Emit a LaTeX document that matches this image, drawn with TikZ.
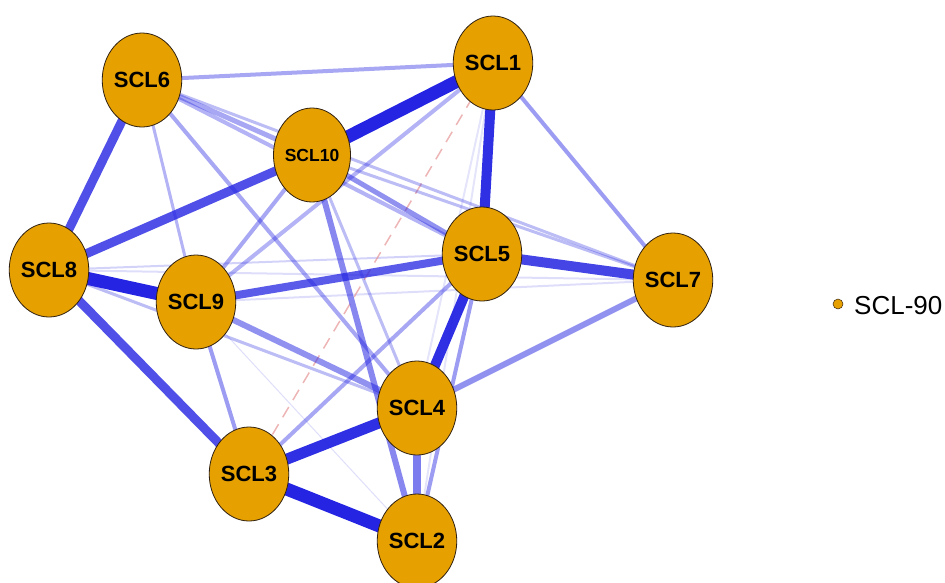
\documentclass[tikz,border=0pt]{standalone}
\usepackage{fontspec}
\setmainfont{Liberation Sans}
\usetikzlibrary{shapes.geometric,backgrounds}
\definecolor{nodeorange}{RGB}{230,160,0}
\definecolor{edgeblue}{RGB}{36,36,226}
\definecolor{negred}{RGB}{230,150,150}

\begin{document}
\begin{tikzpicture}[x=1pt,y=-1pt,
  scl/.style={ellipse,draw=black!75!brown,fill=nodeorange,line width=0.8pt,
    minimum width=72pt,minimum height=94pt,inner sep=0pt,
    font=\fontsize{22}{24}\selectfont\bfseries},
  pos/.style n args={2}{draw=edgeblue,line width=#1pt,draw opacity=#2},
  negedge/.style={draw=negred,line width=1.5pt,draw opacity=0.7,dash pattern=on 12pt off 8pt}]
  \useasboundingbox (0,0) rectangle (945,582);
  % nodes
  \node[scl] (s6) at (142,80) {SCL6};
  \node[scl] (s1) at (493,63) {SCL1};
  \node[scl,font=\fontsize{17.5}{20}\selectfont\bfseries] (s10) at (312,155) {SCL10};
  \node[scl] (s8) at (49,270) {SCL8};
  \node[scl] (s9) at (196,302) {SCL9};
  \node[scl] (s5) at (482,254) {SCL5};
  \node[scl] (s7) at (673,280) {SCL7};
  \node[scl] (s4) at (417,408) {SCL4};
  \node[scl] (s3) at (249,474) {SCL3};
  \node[scl] (s2) at (417,541) {SCL2};
  % edges, weakest first
  \begin{scope}[on background layer]
    \draw[pos={1}{0.15}] (s9.center) -- (s2.center);
    \draw[pos={2}{0.12}] (s1.center) -- (s4.center);
    \draw[pos={2}{0.12}] (s1.center) -- (s2.center);
    \draw[pos={2}{0.15}] (s9.center) -- (s7.center);
    \draw[pos={2}{0.2}] (s8.center) -- (s5.center);
    \draw[pos={2}{0.15}] (s8.center) -- (s7.center);
    \draw[negedge] (s1.center) -- (s3.center);
    \draw[pos={3}{0.3}] (s8.center) -- (s4.center);
    \draw[pos={3}{0.3}] (s10.center) -- (s4.center);
    \draw[pos={3}{0.3}] (s10.center) -- (s7.center);
    \draw[pos={3}{0.3}] (s6.center) -- (s7.center);
    \draw[pos={3}{0.35}] (s6.center) -- (s9.center);
    \draw[pos={4}{0.35}] (s6.center) -- (s5.center);
    \draw[pos={4}{0.4}] (s6.center) -- (s4.center);
    \draw[pos={4}{0.4}] (s6.center) -- (s1.center);
    \draw[pos={5}{0.4}] (s6.center) -- (s10.center);
    \draw[pos={4}{0.4}] (s9.center) -- (s10.center);
    \draw[pos={4}{0.35}] (s1.center) -- (s9.center);
    \draw[pos={4}{0.45}] (s9.center) -- (s3.center);
    \draw[pos={4}{0.4}] (s3.center) -- (s5.center);
    \draw[pos={4}{0.45}] (s5.center) -- (s2.center);
    \draw[pos={4}{0.45}] (s1.center) -- (s7.center);
    \draw[pos={5}{0.5}] (s10.center) -- (s5.center);
    \draw[pos={6}{0.5}] (s9.center) -- (s4.center);
    \draw[pos={6}{0.5}] (s7.center) -- (s4.center);
    \draw[pos={6}{0.55}] (s10.center) -- (s2.center);
    \draw[pos={8}{0.6}] (s4.center) -- (s2.center);
    \draw[pos={8}{0.75}] (s9.center) -- (s5.center);
    \draw[pos={9}{0.8}] (s6.center) -- (s8.center);
    \draw[pos={9}{0.8}] (s8.center) -- (s10.center);
    \draw[pos={9}{0.8}] (s8.center) -- (s3.center);
    \draw[pos={10}{0.85}] (s5.center) -- (s7.center);
    \draw[pos={10}{0.95}] (s1.center) -- (s5.center);
    \draw[pos={10}{0.95}] (s5.center) -- (s4.center);
    \draw[pos={11}{0.95}] (s4.center) -- (s3.center);
    \draw[pos={13}{1}] (s1.center) -- (s10.center);
    \draw[pos={13}{1}] (s3.center) -- (s2.center);
    \draw[pos={13}{1}] (s8.center) -- (s9.center);
  \end{scope}
  % legend
  \node[circle,fill=nodeorange,draw=black!70!brown,line width=0.5pt,minimum size=10pt,inner sep=0pt] (dot) at (838,304) {};
  \node[anchor=west,inner sep=0pt,font=\fontsize{26}{28}\selectfont] (lab) at (854,306) {SCL-90};
\end{tikzpicture}
\end{document}
